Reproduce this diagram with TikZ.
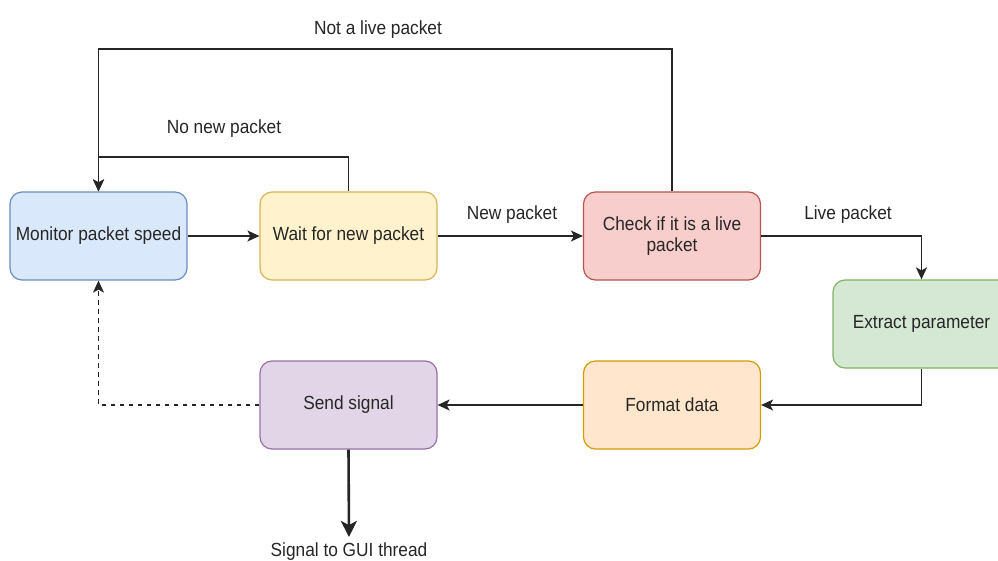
\documentclass[tikz,border=0pt]{standalone}
\usepackage{fontspec}
\setmainfont{Liberation Sans}[FakeStretch=0.91]
\usetikzlibrary{arrows.meta}

\definecolor{blueF}{HTML}{DAE8FC}\definecolor{blueS}{HTML}{6C8EBF}
\definecolor{yelF}{HTML}{FFF2CC}\definecolor{yelS}{HTML}{D6B656}
\definecolor{redF}{HTML}{F8CECC}\definecolor{redS}{HTML}{B85450}
\definecolor{grnF}{HTML}{D5E8D4}\definecolor{grnS}{HTML}{82B366}
\definecolor{orgF}{HTML}{FFE6CC}\definecolor{orgS}{HTML}{D79B00}
\definecolor{purF}{HTML}{E1D5E7}\definecolor{purS}{HTML}{9673A6}
\definecolor{ink}{HTML}{262626}

\tikzset{
  proc/.style={draw=#1S, fill=#1F, line width=1.2pt, rounded corners=12pt,
    minimum width=177pt, minimum height=88pt, inner sep=2pt,
    align=center, text=ink, font=\fontsize{19}{20.5}\selectfont},
  lbl/.style={text=ink, font=\fontsize{19}{20.5}\selectfont, inner sep=0pt},
  flow/.style={draw=ink, line width=1.4pt,
    -{Stealth[length=12pt,width=11pt,inset=3pt]}},
  outflow/.style={draw=ink, line width=2.6pt,
    -{Stealth[length=16pt,width=16pt,inset=4pt]}},
  backflow/.style={flow, dash pattern=on 4.5pt off 4.5pt}
}

\begin{document}
\begin{tikzpicture}[x=1pt,y=-1pt]
\clip (0,0) rectangle (998,560);
\fill[white] (0,0) rectangle (998,560);

% process boxes
\node[proc=blue] (mon)   at (98.5,236)  {Monitor packet speed};
\node[proc=yel]  (wait)  at (348.5,236) {Wait for new packet};
\node[proc=red]  (check) at (672,236)   {Check if it is a live\\packet};
\node[proc=grn]  (ext)   at (921.5,324) {Extract parameter};
\node[proc=org]  (fmt)   at (672,405)   {Format data};
\node[proc=pur]  (send)  at (348.5,405) {Send signal};

% edge labels
\node[lbl] (lnew)  at (512,215) {New packet};
\node[lbl] (lno)   at (224,129) {No new packet};
\node[lbl] (lnot)  at (378,30)  {Not a live packet};
\node[lbl] (llive) at (848,215) {Live packet};
\node[lbl] (lgui)  at (349,552) {Signal to GUI thread};

% connectors
\coordinate (guiend) at (349,537);
\draw[flow] (mon.east) -- (wait.west);
\draw[flow] (wait.east) -- (check.west);
\draw[flow] (wait.north) -- (348.5,157) -- (98.5,157) -- (mon.north);
\draw[flow] (check.north) -- (672,49) -- (98.5,49) -- (mon.north);
\draw[flow] (check.east) -- (ext.north |- check.east) -- (ext.north);
\draw[flow] (ext.south) -- (ext.south |- fmt.east) -- (fmt.east);
\draw[flow] (fmt.west) -- (send.east);
\draw[backflow] (send.west) -- (mon.south |- send.west) -- (mon.south);
\draw[outflow] (send.south) -- (guiend);
\end{tikzpicture}
\end{document}
